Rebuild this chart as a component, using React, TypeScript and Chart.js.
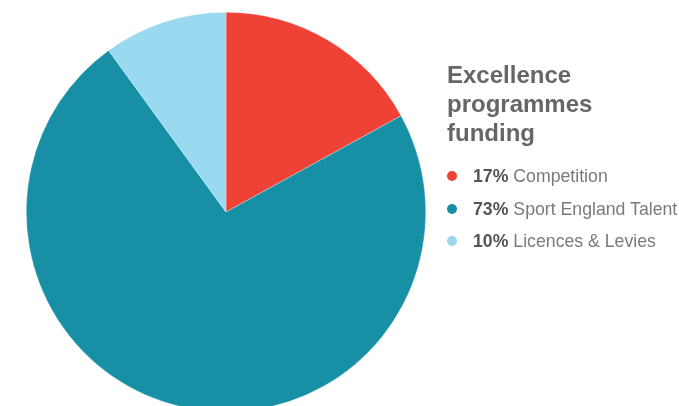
import React, { useEffect, useRef } from "react";
import { Chart, registerables } from "chart.js";

Chart.register(...registerables);

const title = ["Excellence", "programmes", "funding"];
const labels = ["Competition", "Sport England Talent", "Licences & Levies"];
const values = [17, 73, 10];
const colors = ["#EE4236", "#1790A6", "#9AD9EF"];

export default function App() {
  const ref = useRef<HTMLCanvasElement | null>(null);

  useEffect(() => {
    if (!ref.current) return;
    const chart = new Chart(ref.current, {
      type: "pie",
      data: {
        labels,
        datasets: [
          {
            data: values,
            backgroundColor: colors,
            borderColor: "rgba(255,255,255,0.6)",
            borderWidth: 0.5,
          },
        ],
      },
      options: {
        responsive: false,
        animation: false,
        layout: { padding: { left: 26, right: 253, top: 12, bottom: 8 } },
        plugins: { legend: { display: false }, tooltip: { enabled: false } },
      },
    });
    return () => chart.destroy();
  }, []);

  return (
    <div
      style={{
        position: "fixed",
        left: 0,
        top: 0,
        width: 679,
        height: 406,
        overflow: "hidden",
        background: "#fff",
        fontFamily: "'Liberation Sans', Arial, Helvetica, sans-serif",
      }}
    >
      <canvas ref={ref} width={679} height={420} style={{ position: "absolute", left: 0, top: 0 }} />
      <div
        style={{
          position: "absolute",
          left: 447,
          top: 60,
          fontSize: 24,
          lineHeight: "29px",
          fontWeight: 700,
          color: "#666666",
        }}
      >
        {title.map((t) => (
          <div key={t}>{t}</div>
        ))}
      </div>
      <div style={{ position: "absolute", left: 447, top: 160 }}>
        {labels.map((l, i) => (
          <div
            key={l}
            style={{
              position: "relative",
              height: 32.5,
              lineHeight: "32.5px",
              fontSize: 17.7,
              whiteSpace: "nowrap",
              paddingLeft: 26,
            }}
          >
            <span
              style={{
                position: "absolute",
                left: 0,
                top: 11.25,
                width: 10,
                height: 10,
                borderRadius: 5,
                background: colors[i],
              }}
            />
            <span style={{ fontWeight: 700, color: "#555555" }}>{values[i]}%</span>
            <span style={{ color: "#7a7a7a" }}> {l}</span>
          </div>
        ))}
      </div>
    </div>
  );
}
